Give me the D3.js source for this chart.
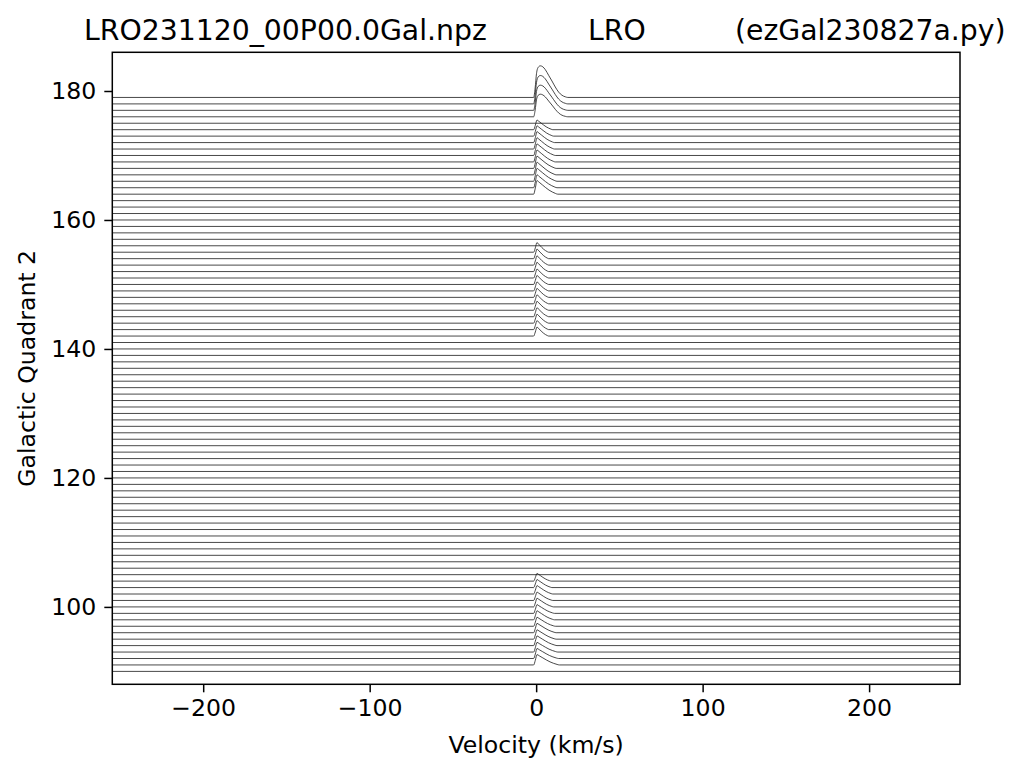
<!DOCTYPE html>
<html><head><meta charset="utf-8">
<script src="https://cdn.jsdelivr.net/npm/d3@7"></script>
<style>body{margin:0;background:#fff} text{font-family:"DejaVu Sans",sans-serif}</style>
</head><body><svg id="c" width="1024" height="775"></svg>
<script>
// ---- data ----
const longitudes = [90,91,92,93,94,95,96,97,98,99,100,101,102,103,104,105,106,107,108,109,
  110,111,112,113,114,115,116,117,118,119,120,121,122,123,124,125,126,127,128,129,
  130,131,132,133,134,135,136,137,138,139,140,141,142,143,144,145,146,147,148,149,
  150,151,152,153,154,155,156,157,158,159,160,161,162,163,164,165,166,167,168,169,
  170,171,172,173,174,175,176,177,178,179];
const velocityExtent = [-254.6, 254.6];
const xTicks = [-200, -100, 0, 100, 200];
const yTicks = [100, 120, 140, 160, 180];

// longitudes that carry a visible HI signal, with peak height (deg units) and tail end velocity (km/s)
const signalLon = [179,178,177,176,
  174,173,172,171,170,169,168,167,166,165,164,
  155,154,153,152,151,150,149,148,147,146,145,144,143,142,
  104,103,102,101,100,99,98,97,96,95,94,93,92,91];
const signalHeight = [4.9,4.4,3.9,3.5,
  1.5,1.6,1.7,1.75,1.8,1.85,1.9,1.95,2.0,2.0,2.1,
  1.5,1.5,1.45,1.45,1.4,1.4,1.4,1.4,1.4,1.4,1.4,1.4,1.4,1.4,
  1.2,1.25,1.3,1.3,1.35,1.35,1.4,1.4,1.45,1.45,1.5,1.5,1.55,1.6];
const signalTailEnd = [19,19,19,19,
  10,10.5,11,11,11.5,11.5,12,12,12.5,12.5,13,
  7.5,7.5,7.5,7.5,7.5,7.5,7.5,7.5,7.5,7.5,7.5,7.5,7.5,7.5,
  9,9.5,10,10,10.5,11,11,11.5,12,12,12.5,13,13.5,14];
const signalShape = ["round","round","round","round",
  "sharp","sharp","sharp","sharp","sharp","sharp","sharp","sharp","sharp","sharp","sharp",
  "sharp","sharp","sharp","sharp","sharp","sharp","sharp","sharp","sharp","sharp","sharp","sharp","sharp","sharp",
  "sharp","sharp","sharp","sharp","sharp","sharp","sharp","sharp","sharp","sharp","sharp","sharp","sharp","sharp"];
// profiles: [velocity km/s, relative amplitude]
const roundProfile = [[-1.5,0],[-0.6,0.3],[0.2,0.75],[1.2,0.95],[2.5,1],[4,0.97],[5.5,0.88],[7.5,0.7],
  [9.5,0.52],[11.5,0.33],[13.5,0.17],[15.5,0.07],[17.5,0.02],[19,0]];
const roundRefEnd = 19;
const sharpProfile = [[-1.5,0],[-0.5,0.45],[0.5,1],[1.5,0.88],[3,0.68],[4.5,0.48],[6,0.3],[7.5,0.16],[9,0.05],[10,0]];
const sharpRefEnd = 10;

// ---- chart ----
const W = 1024, H = 775;
const m = {left: 112.3, right: 960, top: 52.3, bottom: 684.3};
const svg = d3.select("#c");
svg.append("rect").attr("width", W).attr("height", H).attr("fill", "#fff");

const x = d3.scaleLinear().domain(velocityExtent).range([m.left, m.right]);
const y = d3.scaleLinear().domain([88.0, 186.0]).range([m.bottom, m.top]);

svg.append("clipPath").attr("id", "clip").append("rect")
  .attr("x", m.left).attr("y", m.top).attr("width", m.right - m.left).attr("height", m.bottom - m.top);

function spectrum(lon) {
  const i = signalLon.indexOf(lon);
  const pts = [[velocityExtent[0], lon]];
  if (i >= 0) {
    const prof = signalShape[i] === "round" ? roundProfile : sharpProfile;
    const ref = signalShape[i] === "round" ? roundRefEnd : sharpRefEnd;
    const end = signalTailEnd[i];
    prof.forEach(([v, a]) => {
      const vv = v <= 0.5 ? v : 0.5 + (v - 0.5) * (end - 0.5) / (ref - 0.5);
      pts.push([vv, lon + a * signalHeight[i]]);
    });
  }
  pts.push([velocityExtent[1], lon]);
  return pts;
}

const line = d3.line().x(d => x(d[0])).y(d => y(d[1])).curve(d3.curveMonotoneX);
svg.append("g").attr("clip-path", "url(#clip)")
  .selectAll("path").data(longitudes).join("path")
  .attr("d", d => line(spectrum(d)))
  .attr("fill", "none").attr("stroke", "#1a1a1a").attr("stroke-width", 0.8);

// frame
svg.append("rect").attr("x", m.left).attr("y", m.top)
  .attr("width", m.right - m.left).attr("height", m.bottom - m.top)
  .attr("fill", "none").attr("stroke", "#000").attr("stroke-width", 1.5);

const fs = 23.6;
const xAxis = svg.append("g").attr("transform", `translate(0,${m.bottom})`)
  .call(d3.axisBottom(x).tickValues(xTicks).tickSize(8).tickPadding(7));
const yAxis = svg.append("g").attr("transform", `translate(${m.left},0)`)
  .call(d3.axisLeft(y).tickValues(yTicks).tickSize(8).tickPadding(8));
[xAxis, yAxis].forEach(g => {
  g.select(".domain").remove();
  g.selectAll(".tick line").attr("stroke", "#000").attr("stroke-width", 1.5);
  g.selectAll(".tick text").attr("fill", "#000").attr("font-size", fs)
    .attr("font-family", "DejaVu Sans");
});

svg.append("text").attr("x", (m.left + m.right) / 2).attr("y", 753)
  .attr("text-anchor", "middle").attr("font-size", fs).text("Velocity (km/s)");
svg.append("text").attr("transform", `translate(35,${(m.top + m.bottom) / 2}) rotate(-90)`)
  .attr("text-anchor", "middle").attr("font-size", fs).text("Galactic Quadrant 2");

const tfs = 28.3;
svg.append("text").attr("x", 84).attr("y", 40).attr("font-size", tfs).text("LRO231120_00P00.0Gal.npz");
svg.append("text").attr("x", 588).attr("y", 40).attr("font-size", tfs).text("LRO");
svg.append("text").attr("x", 735).attr("y", 40).attr("font-size", tfs).text("(ezGal230827a.py)");
</script></body></html>
